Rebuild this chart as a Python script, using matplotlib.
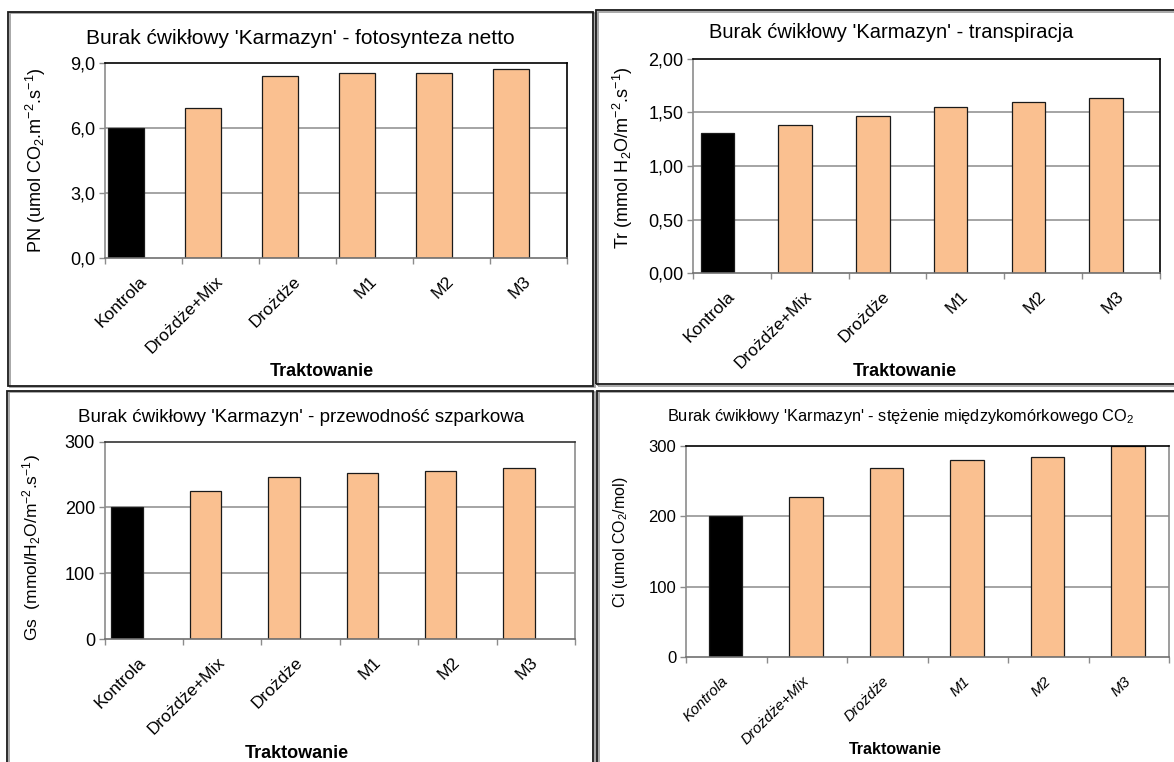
import numpy as np
import matplotlib
matplotlib.use('Agg')
import matplotlib.pyplot as plt
from matplotlib.patches import Rectangle
from matplotlib.ticker import FixedLocator, FuncFormatter

plt.rcParams['font.family'] = ['Liberation Sans', 'DejaVu Sans']
plt.rcParams['mathtext.fontset'] = 'custom'
plt.rcParams['mathtext.rm'] = 'Liberation Sans'
plt.rcParams['mathtext.it'] = 'Liberation Sans:italic'
plt.rcParams['mathtext.bf'] = 'Liberation Sans:bold'

W, H = 1174, 762

# Data
treatments = ['Kontrola', 'Drożdże+Mix', 'Drożdże', 'M1', 'M2', 'M3']
pn = [6.0, 6.95, 8.43, 8.55, 8.55, 8.75]       # fotosynteza netto
tr = [1.31, 1.38, 1.47, 1.55, 1.60, 1.63]      # transpiracja
gs = [200, 225, 247, 253, 256, 260]            # przewodnosc szparkowa
ci = [200, 227, 269, 280, 285, 300]            # stezenie CO2

bar_colors = ['black'] + ['#FAC090'] * 5
grid_gray = '#8c8c8c'

fig = plt.figure(figsize=(W / 100, H / 100), dpi=100)


def px(x, y):
    return x / W, 1 - y / H


def add_ax(left, top, right, bottom):
    return fig.add_axes([left / W, 1 - bottom / H, (right - left) / W, (bottom - top) / H])


def frame(x0, y0, x1, y1):
    # panel border with a light shadow
    fig.patches.append(Rectangle((x0 / W + 1.5 / W, 1 - y1 / H - 1.5 / H), (x1 - x0) / W, (y1 - y0) / H,
                                 transform=fig.transFigure, fill=False, ec='#9a9a9a', lw=1.2))
    fig.patches.append(Rectangle((x0 / W, 1 - y1 / H), (x1 - x0) / W, (y1 - y0) / H,
                                 transform=fig.transFigure, fill=False, ec='#1a1a1a', lw=1.3))


def panel(ax, values, ymax, ystep, ndec, bar_off, bar_w, ytick_size=13, xtick_size=12.5,
          xtick_style='normal', right_color='black', top_color='black', xpad=15):
    x = np.arange(len(values))
    ax.bar(x + bar_off, values, width=bar_w, align='edge', color=bar_colors,
           edgecolor='#1a1a1a', linewidth=0.9, zorder=3)
    ax.set_xlim(-0.5, len(values) - 0.5)
    ax.set_ylim(0, ymax)
    yt = np.arange(0, ymax + ystep / 2, ystep)
    ax.set_yticks(yt)
    ax.yaxis.set_major_formatter(FuncFormatter(
        lambda v, p: ('{:.%df}' % ndec).format(v).replace('.', ',')))
    for v in yt[1:-1]:
        ax.axhline(v, color=grid_gray, lw=1.1, zorder=1)
    ax.set_xticks(x)
    ax.set_xticklabels(treatments, rotation=45, ha='right', va='center',
                       rotation_mode='anchor', fontsize=xtick_size, style=xtick_style)
    ax.xaxis.set_minor_locator(FixedLocator(np.arange(-0.5, len(values), 1.0)))
    ax.tick_params(axis='x', which='major', length=0, pad=xpad)
    ax.tick_params(axis='x', which='minor', length=4, color=grid_gray, width=1)
    ax.tick_params(axis='y', length=4, color=grid_gray, width=1, labelsize=ytick_size, pad=3)
    ax.spines['left'].set_color(grid_gray)
    ax.spines['bottom'].set_color('#707070')
    ax.spines['right'].set_color(right_color)
    ax.spines['top'].set_color(top_color)
    for s in ax.spines.values():
        s.set_linewidth(1.2)
        s.set_zorder(4)


# Panel frames
frame(8, 12, 593, 386)
frame(596, 10, 1190, 384)
frame(7, 391, 593, 780)
frame(597, 391, 1190, 780)

# Fotosynteza netto
ax1 = add_ax(105.4, 63.3, 567.2, 257.7)
panel(ax1, pn, 9.0, 3.0, 1, -0.466, 0.466)
fig.text(*px(300, 38), "Burak ćwikłowy 'Karmazyn' - fotosynteza netto",
         ha='center', va='center', fontsize=15)
fig.text(*px(36, 160), r'PN (umol CO$_\mathregular{2}$.m$^\mathregular{-2}$.s$^\mathregular{-1}$)',
         ha='center', va='center', rotation=90, fontsize=13)
fig.text(*px(322, 372), 'Traktowanie', ha='center', va='center', fontsize=13, weight='bold')

# Transpiracja
ax2 = add_ax(693.2, 58.7, 1159.8, 273.3)
panel(ax2, tr, 2.0, 0.5, 2, -0.405, 0.43)
fig.text(*px(891, 33), "Burak ćwikłowy 'Karmazyn' - transpiracja",
         ha='center', va='center', fontsize=14.5)
fig.text(*px(623, 158), r'Tr (mmol H$_\mathregular{2}$O/m$^\mathregular{-2}$.s$^\mathregular{-1}$)',
         ha='center', va='center', rotation=90, fontsize=13)
fig.text(*px(905, 372), 'Traktowanie', ha='center', va='center', fontsize=13, weight='bold')

# Przewodnosc szparkowa
ax3 = add_ax(104.6, 441.7, 575, 639)
panel(ax3, gs, 300, 100, 0, -0.413, 0.40, right_color=grid_gray, top_color='#333333')
fig.text(*px(301, 418), "Burak ćwikłowy 'Karmazyn' - przewodność szparkowa",
         ha='center', va='center', fontsize=13.5)
fig.text(*px(32, 548), r'Gs  (mmol/H$_\mathregular{2}$O/m$^\mathregular{-2}$.s$^\mathregular{-1}$)',
         ha='center', va='center', rotation=90, fontsize=12.5)
fig.text(*px(297, 753), 'Traktowanie', ha='center', va='center', fontsize=13, weight='bold')

# Stezenie miedzykomorkowego CO2
ax4 = add_ax(686, 446.3, 1169, 656.7)
panel(ax4, ci, 300, 100, 0, -0.217, 0.413, ytick_size=12, xtick_size=11,
      xtick_style='italic', right_color=grid_gray, xpad=16)
fig.text(*px(901, 417), r"Burak ćwikłowy 'Karmazyn' - stężenie międzykomórkowego CO$_\mathregular{2}$",
         ha='center', va='center', fontsize=11.8)
fig.text(*px(620, 542), r'Ci (umol CO$_\mathregular{2}$/mol)',
         ha='center', va='center', rotation=90, fontsize=11.5)
fig.text(*px(895, 750), 'Traktowanie', ha='center', va='center', fontsize=11.5, weight='bold')

fig.savefig('out.png', dpi=100)
